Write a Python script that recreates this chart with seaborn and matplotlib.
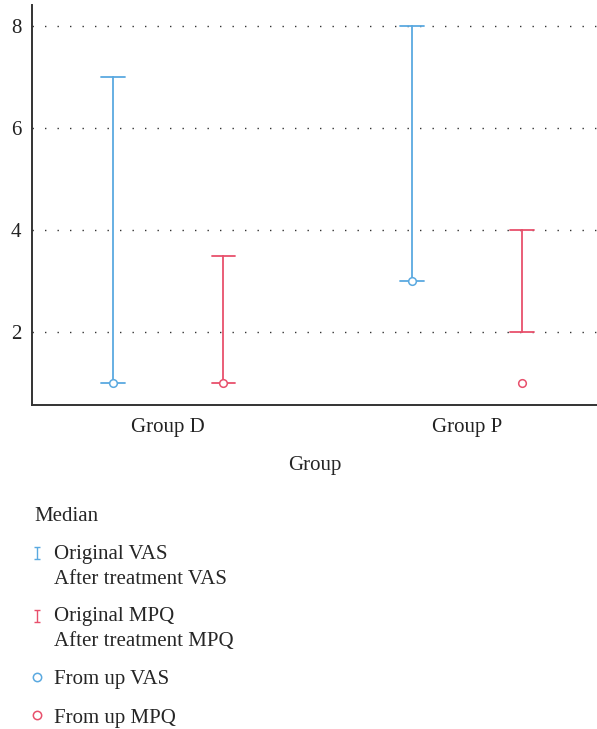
import pandas as pd
import matplotlib.pyplot as plt
from matplotlib.lines import Line2D
from matplotlib.path import Path
from matplotlib.legend_handler import HandlerLine2D
import seaborn as sns

sns.set_style("white")
plt.rcParams["font.family"] = ["Liberation Serif", "DejaVu Serif"]

groups = ["Group D", "Group P"]
measures = ["VAS", "MPQ"]

# range (low, high) of Original / After treatment, per group
vas_range = [(1, 7), (3, 8)]
mpq_range = [(1, 3.5), (2, 4)]

# "From up" values
from_up_vas = [1, 3]
from_up_mpq = [1, 1]

blue = "#5aa9e0"
red = "#e8506c"
fs = 15

rows = []
for i, g in enumerate(groups):
    for v in vas_range[i]:
        rows.append({"Group": g, "Measure": "VAS", "value": v})
    for v in mpq_range[i]:
        rows.append({"Group": g, "Measure": "MPQ", "value": v})
range_df = pd.DataFrame(rows)

up_df = pd.DataFrame({
    "Group": groups + groups,
    "Measure": ["VAS"] * 2 + ["MPQ"] * 2,
    "value": from_up_vas + from_up_mpq,
})

fig = plt.figure(figsize=(5.97, 7.29), dpi=100)
ax = fig.add_axes([0.054, 0.444, 0.946, 0.549])

palette = {"VAS": blue, "MPQ": red}

sns.pointplot(
    data=range_df, x="Group", y="value", hue="Measure",
    hue_order=measures, palette=palette,
    estimator="median", errorbar=("pi", 100),
    dodge=0.37, linestyle="none", markersize=0,
    capsize=0.08, err_kws={"linewidth": 1.3},
    legend=False, ax=ax,
)

sns.pointplot(
    data=up_df, x="Group", y="value", hue="Measure",
    hue_order=measures, palette=palette,
    dodge=0.37, linestyle="none", errorbar=None,
    marker="o", markersize=5.5, markerfacecolor="white",
    markeredgewidth=1.1, legend=False, ax=ax,
)

ax.set_ylim(0.57, 8.41)
ax.set_xlim(-0.455, 1.435)
ax.set_yticks([2, 4, 6, 8])
ax.set_xlabel("Group", fontsize=fs, labelpad=14)
ax.set_ylabel("")
ax.tick_params(axis="both", length=0, labelsize=fs, colors="#222222")
ax.tick_params(axis="x", pad=9)
ax.tick_params(axis="y", pad=8)
ax.yaxis.grid(True, linestyle=(0, (1, 8)), color="#333333", linewidth=1)
ax.set_axisbelow(True)
sns.despine(ax=ax, top=True, right=True)
for s in ["left", "bottom"]:
    ax.spines[s].set_color("#333333")
    ax.spines[s].set_linewidth(1.4)


# I-beam marker for the range entries
ibeam = Path(
    [(-0.55, 1), (0.55, 1), (0, 1), (0, -1), (-0.55, -1), (0.55, -1)],
    [Path.MOVETO, Path.LINETO, Path.MOVETO, Path.LINETO, Path.MOVETO, Path.LINETO],
)


class FirstLineHandler(HandlerLine2D):
    # put the handle on the first line of a two-line label
    def create_artists(self, legend, orig_handle, xdescent, ydescent,
                       width, height, fontsize, trans):
        return super().create_artists(legend, orig_handle, xdescent,
                                      ydescent - 1.25 * fontsize, width, height,
                                      fontsize, trans)


h_vas = Line2D([], [], linestyle="none", marker=ibeam, color=blue,
               markersize=8.5, markeredgewidth=1, markerfacecolor="none")
h_mpq = Line2D([], [], linestyle="none", marker=ibeam, color=red,
               markersize=8.5, markeredgewidth=1, markerfacecolor="none")
h_up_vas = Line2D([], [], linestyle="none", marker="o", markerfacecolor="white",
                  markeredgecolor=blue, markersize=6, markeredgewidth=1.1)
h_up_mpq = Line2D([], [], linestyle="none", marker="o", markerfacecolor="white",
                  markeredgecolor=red, markersize=6, markeredgewidth=1.1)

handles = [h_vas, h_mpq, h_up_vas, h_up_mpq]
labels = [
    "Original VAS\nAfter treatment VAS",
    "Original MPQ\nAfter treatment MPQ",
    "From up VAS",
    "From up MPQ",
]
leg = fig.legend(
    handles, labels, title="Median", loc="upper left",
    bbox_to_anchor=(0.026, 0.33), frameon=False, fontsize=fs,
    title_fontsize=fs, handlelength=0.25, handletextpad=0.7,
    labelspacing=0.9, alignment="left",
    handler_map={h_vas: FirstLineHandler(), h_mpq: FirstLineHandler()},
)
for t in leg.get_texts():
    t.set_linespacing(1.4)

fig.savefig("out.png", dpi=100)
